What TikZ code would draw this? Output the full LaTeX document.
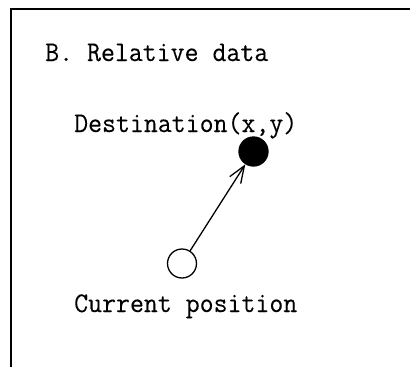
\documentclass[tikz,border=0pt]{standalone}
\usepackage{fontspec}
\setmonofont{Latin Modern Mono}[FakeStretch=0.95,FakeBold=0.12]
\usetikzlibrary{arrows.meta}
\begin{document}
\begin{tikzpicture}[x=1pt,y=-1pt,
  lbl/.style={anchor=base west,inner sep=0pt,font=\ttfamily\fontsize{28.5}{34}\selectfont},
  posdot/.style={circle,draw,line width=1.3pt,minimum size=29pt,inner sep=0pt},
  conn/.style={line width=1.3pt,-{Straight Barb[length=17pt,width=13pt,line width=1.3pt]}}]
\useasboundingbox (0,0) rectangle (410,367);
\draw[line width=2pt] (11,380) -- (11,9) -- (420,9);
\node[lbl] (title) at (45,61) {B. Relative data};
\node[lbl] (destlbl) at (74,132) {Destination(x,y)};
\node[lbl] (curlbl) at (74,312) {Current position};
\node[posdot,fill=black] (dest) at (253.5,151.5) {};
\node[posdot,fill=white] (cur) at (182,263.5) {};
\draw[conn] (cur) -- (dest);
\end{tikzpicture}
\end{document}
